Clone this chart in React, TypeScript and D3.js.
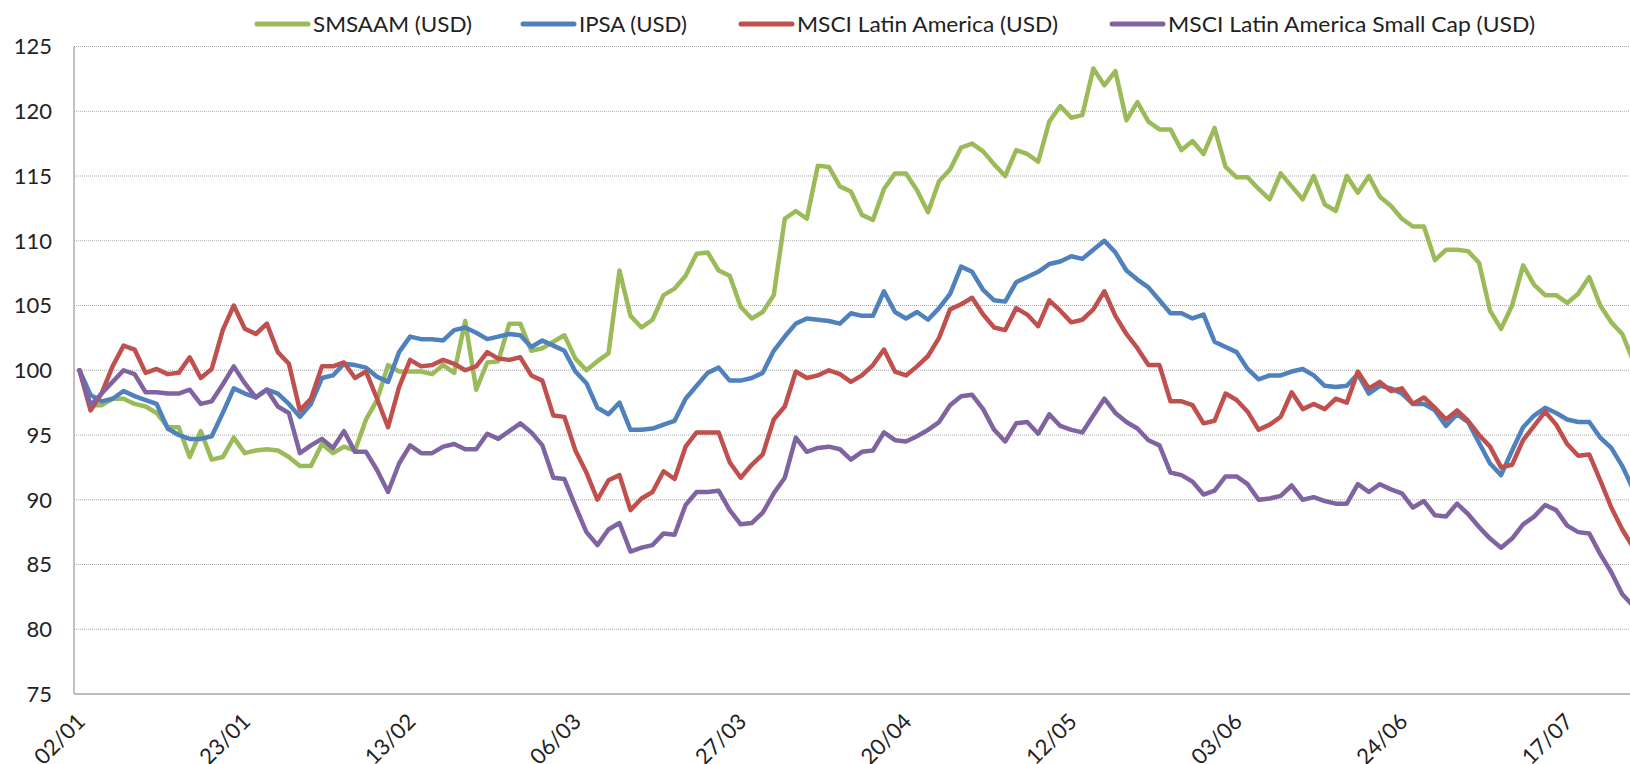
import React from 'react';
import * as d3 from 'd3';

const smsaam = [
  100, 97.3, 97.3, 97.8, 97.8, 97.4, 97.2, 96.7, 95.6, 95.6,
  93.3, 95.3, 93.1, 93.3, 94.8, 93.6, 93.8, 93.9, 93.8, 93.3,
  92.6, 92.6, 94.3, 93.6, 94.1, 93.8, 96.2, 97.7, 100.4, 99.9,
  99.9, 99.9, 99.7, 100.4, 99.8, 103.8, 98.5, 100.6, 100.7, 103.6,
  103.6, 101.5, 101.7, 102.2, 102.7, 100.9, 100.0, 100.7, 101.3, 107.7,
  104.2, 103.3, 103.9, 105.8, 106.3, 107.3, 109.0, 109.1, 107.7, 107.3,
  104.9, 104.0, 104.5, 105.8, 111.7, 112.3, 111.7, 115.8, 115.7, 114.2,
  113.8, 112.0, 111.6, 114.0, 115.2, 115.2, 113.9, 112.2, 114.6, 115.5,
  117.2, 117.5, 116.9, 115.9, 115.0, 117.0, 116.7, 116.1, 119.2, 120.4,
  119.5, 119.7, 123.3, 122.0, 123.1, 119.3, 120.7, 119.2, 118.6, 118.6,
  117.0, 117.7, 116.7, 118.7, 115.7, 114.9, 114.9, 114.0, 113.2, 115.2,
  114.2, 113.2, 115.0, 112.8, 112.3, 115.0, 113.7, 115.0, 113.4, 112.7,
  111.7, 111.1, 111.1, 108.5, 109.3, 109.3, 109.2, 108.3, 104.6, 103.2,
  105.0, 108.1, 106.6, 105.8, 105.8, 105.2, 105.9, 107.2, 105.0, 103.7,
  102.8, 100.7,
];

const ipsa = [
  100, 98.1, 97.6, 97.8, 98.4, 98.0, 97.7, 97.4, 95.5, 95.0,
  94.7, 94.7, 94.9, 96.7, 98.6, 98.2, 97.9, 98.5, 98.2, 97.4,
  96.4, 97.4, 99.4, 99.6, 100.5, 100.4, 100.2, 99.5, 99.1, 101.4,
  102.6, 102.4, 102.4, 102.3, 103.1, 103.3, 102.9, 102.4, 102.6, 102.8,
  102.7, 101.8, 102.3, 101.9, 101.5, 99.9, 99.0, 97.1, 96.6, 97.5,
  95.4, 95.4, 95.5, 95.8, 96.1, 97.8, 98.8, 99.8, 100.2, 99.2,
  99.2, 99.4, 99.8, 101.5, 102.6, 103.6, 104.0, 103.9, 103.8, 103.6,
  104.4, 104.2, 104.2, 106.1, 104.5, 104.0, 104.5, 103.9, 104.8, 105.9,
  108.0, 107.6, 106.2, 105.4, 105.3, 106.8, 107.2, 107.6, 108.2, 108.4,
  108.8, 108.6, 109.3, 110.0, 109.1, 107.7, 107.0, 106.4, 105.4, 104.4,
  104.4, 104.0, 104.3, 102.2, 101.8, 101.4, 100.1, 99.3, 99.6, 99.6,
  99.9, 100.1, 99.6, 98.8, 98.7, 98.8, 99.7, 98.2, 98.8, 98.6,
  98.2, 97.4, 97.4, 96.9, 95.7, 96.6, 96.0, 94.4, 92.8, 91.9,
  93.8, 95.6, 96.5, 97.1, 96.7, 96.2, 96.0, 96.0, 94.8, 94.0,
  92.6, 90.8,
];

const msciLatam = [
  100, 96.9, 98.2, 100.3, 101.9, 101.6, 99.8, 100.1, 99.7, 99.8,
  101.0, 99.4, 100.1, 103.1, 105.0, 103.2, 102.8, 103.6, 101.4, 100.5,
  96.9, 97.8, 100.3, 100.3, 100.6, 99.4, 99.9, 97.8, 95.6, 98.7,
  100.8, 100.3, 100.4, 100.8, 100.5, 100.0, 100.3, 101.4, 100.9, 100.8,
  101.0, 99.6, 99.2, 96.5, 96.4, 93.8, 92.1, 90.0, 91.5, 91.9,
  89.2, 90.1, 90.6, 92.2, 91.6, 94.1, 95.2, 95.2, 95.2, 92.9,
  91.7, 92.7, 93.5, 96.2, 97.2, 99.9, 99.4, 99.6, 100.0, 99.7,
  99.1, 99.6, 100.4, 101.6, 99.9, 99.6, 100.3, 101.1, 102.5, 104.7,
  105.1, 105.6, 104.3, 103.3, 103.1, 104.8, 104.3, 103.4, 105.4, 104.6,
  103.7, 103.9, 104.7, 106.1, 104.2, 102.8, 101.7, 100.4, 100.4, 97.6,
  97.6, 97.3, 95.9, 96.1, 98.2, 97.7, 96.8, 95.4, 95.8, 96.4,
  98.3, 97.0, 97.4, 97.0, 97.8, 97.5, 99.9, 98.6, 99.1, 98.4,
  98.6, 97.4, 97.9, 97.1, 96.2, 96.9, 96.1, 95.0, 94.1, 92.5,
  92.7, 94.6, 95.7, 96.8, 95.8, 94.3, 93.4, 93.5, 91.5, 89.4,
  87.7, 86.3,
];

const msciSmallCap = [
  100, 97.3, 98.2, 99.1, 100.0, 99.7, 98.3, 98.3, 98.2, 98.2,
  98.5, 97.4, 97.6, 98.9, 100.3, 99.0, 97.9, 98.5, 97.2, 96.7,
  93.6, 94.2, 94.7, 94.0, 95.3, 93.7, 93.7, 92.3, 90.6, 92.8,
  94.2, 93.6, 93.6, 94.1, 94.3, 93.9, 93.9, 95.1, 94.7, 95.3,
  95.9, 95.2, 94.2, 91.7, 91.6, 89.5, 87.5, 86.5, 87.7, 88.2,
  86.0, 86.3, 86.5, 87.4, 87.3, 89.6, 90.6, 90.6, 90.7, 89.2,
  88.1, 88.2, 89.0, 90.5, 91.7, 94.8, 93.7, 94.0, 94.1, 93.9,
  93.1, 93.7, 93.8, 95.2, 94.6, 94.5, 94.9, 95.4, 96.0, 97.3,
  98.0, 98.1, 97.0, 95.4, 94.5, 95.9, 96.0, 95.1, 96.6, 95.7,
  95.4, 95.2, 96.5, 97.8, 96.7, 96.0, 95.5, 94.6, 94.2, 92.1,
  91.9, 91.4, 90.4, 90.7, 91.8, 91.8, 91.2, 90.0, 90.1, 90.3,
  91.1, 90.0, 90.2, 89.9, 89.7, 89.7, 91.2, 90.6, 91.2, 90.8,
  90.5, 89.4, 89.9, 88.8, 88.7, 89.7, 88.9, 87.9, 87.0, 86.3,
  87.0, 88.1, 88.7, 89.6, 89.2, 88.0, 87.5, 87.4, 85.8, 84.4,
  82.7, 81.8,
];

const seriesNames = [
  'SMSAAM (USD)',
  'IPSA (USD)',
  'MSCI Latin America (USD)',
  'MSCI Latin America Small Cap (USD)',
];
const seriesColors = ['#9BBB59', '#4F81BD', '#C0504D', '#8064A2'];
const seriesData = [smsaam, ipsa, msciLatam, msciSmallCap];

const tickLabels = ['02/01', '23/01', '13/02', '06/03', '27/03', '20/04', '12/05', '03/06', '24/06', '17/07'];
const tickIndex = [0, 15, 30, 45, 60, 75, 90, 105, 120, 135];
const yTicks = [75, 80, 85, 90, 95, 100, 105, 110, 115, 120, 125];

// legend layout (marker start, text start, text width)
const legendMarkerX = [257, 523, 741, 1112];
const legendTextX = [313, 579, 797, 1168];
const legendTextW = [159, 108, 261, 367];

const W = 1630;
const H = 764;
const FONT = 'Lato, "Open Sans", sans-serif';

export default function App() {
  const n = smsaam.length;
  const step = 11.02;
  const x = d3.scaleLinear().domain([0, n - 1]).range([79.5, 79.5 + (n - 1) * step]);
  const y = d3.scaleLinear().domain([75, 125]).range([694, 46.5]);
  const axisX = 74;

  const line = d3
    .line<number>()
    .x((_, i) => x(i))
    .y((d) => y(d));

  return (
    <svg
      width={W}
      height={H}
      style={{ position: 'absolute', left: 0, top: 0, background: '#fff' }}
      fontFamily={FONT}
    >
      <rect x={0} y={0} width={W} height={H} fill="#fff" />
      {/* gridlines */}
      {yTicks.map((t) =>
        t === 75 ? null : (
          <line
            key={'g' + t}
            x1={axisX}
            x2={W}
            y1={y(t)}
            y2={y(t)}
            stroke="#a8a8a8"
            strokeWidth={1}
            strokeDasharray="1 1"
          />
        )
      )}
      {/* axes */}
      <line x1={axisX} x2={axisX} y1={y(125)} y2={y(75)} stroke="#a6a6a6" strokeWidth={1.4} />
      <line x1={axisX} x2={W} y1={y(75)} y2={y(75)} stroke="#a6a6a6" strokeWidth={1.4} />
      {/* y tick labels */}
      {yTicks.map((t) => (
        <text
          key={'yt' + t}
          x={52}
          y={y(t)}
          dy="0.36em"
          textAnchor="end"
          fontSize={22}
          fill="#222"
        >
          {t}
        </text>
      ))}
      {/* x tick labels */}
      {tickIndex.map((k, i) => (
        <text
          key={'xt' + k}
          transform={`translate(${x(k) + 7},${723}) rotate(-45)`}
          textAnchor="end"
          fontSize={22}
          fill="#222"
        >
          {tickLabels[i]}
        </text>
      ))}
      {/* series */}
      <g clipPath="url(#plotClip)">
        {seriesData.map((s, i) => (
          <path
            key={seriesNames[i]}
            d={line(s) || ''}
            fill="none"
            stroke={seriesColors[i]}
            strokeWidth={4.5}
            strokeLinejoin="round"
            strokeLinecap="round"
          />
        ))}
      </g>
      <defs>
        <clipPath id="plotClip">
          <rect x={axisX} y={0} width={W - axisX} height={H} />
        </clipPath>
      </defs>
      {/* legend */}
      {seriesNames.map((name, i) => (
        <g key={'lg' + i}>
          <line
            x1={legendMarkerX[i]}
            x2={legendMarkerX[i] + 51}
            y1={24}
            y2={24}
            stroke={seriesColors[i]}
            strokeWidth={5}
            strokeLinecap="round"
          />
          <text
            x={legendTextX[i]}
            y={32}
            fontSize={22}
            fill="#222"
            textLength={legendTextW[i]}
            lengthAdjust="spacingAndGlyphs"
          >
            {name}
          </text>
        </g>
      ))}
    </svg>
  );
}
